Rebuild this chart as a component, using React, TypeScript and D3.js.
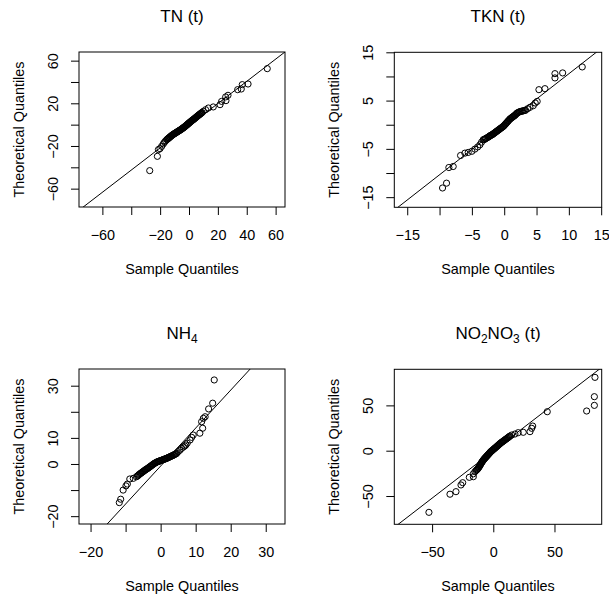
import React, { useEffect, useRef } from 'react';
import * as d3 from 'd3';

// [sample quantile, theoretical quantile]
const tnPoints = [
  [54.2, 52.5], [40.9, 38.1], [36.9, 37.5], [36.2, 33.4], [33.7, 32.8], [27, 27.5], [25.4, 26],
  [25.6, 22.5], [22.6, 21.8], [21.5, 18.75], [16.8, 16.6], [13.4, 15.6], [11.5, 14], [9.9, 12.5],
  [9.0, 11.4], [8.3, 10.6], [7.6, 9.9], [6.9, 9.1], [6.2, 8.4], [5.5, 7.6], [4.8, 6.8], [4.1, 6.0],
  [3.4, 5.2], [2.7, 4.5], [2.0, 3.8], [1.3, 3.0], [0.6, 2.2], [0, 1.5], [-0.6, 0.8], [-1.2, 0.1],
  [-1.8, -0.6], [-2.4, -1.3], [-3.0, -2.0], [-3.6, -2.6], [-4.2, -3.2], [-4.8, -3.8], [-5.5, -4.5],
  [-6.2, -5.1], [-6.9, -5.7], [-7.6, -6.3], [-8.3, -6.9], [-9.0, -7.5], [-9.7, -8.1], [-10.4, -8.7],
  [-11.1, -9.3], [-11.8, -10], [-12.5, -10.8], [-13.2, -11.6], [-13.9, -12.4], [-14.6, -13.2],
  [-15.4, -14.1], [-16.2, -15.2], [-17, -16.5], [-17.8, -18], [-18.9, -20.3], [-20.1, -22.5],
  [-21.2, -23.4], [-21.9, -29.7], [-27.2, -43.1],
  [8.65, 11.0], [7.95, 10.25], [7.25, 9.5], [6.55, 8.75], [5.85, 8.0], [5.15, 7.2], [4.45, 6.4],
  [3.75, 5.6], [3.05, 4.85], [2.35, 4.15], [1.65, 3.4], [0.95, 2.6], [0.3, 1.85], [-0.3, 1.15],
  [-0.9, 0.45], [-1.5, -0.25], [-2.1, -0.95], [-2.7, -1.65], [-3.3, -2.3], [-3.9, -2.9], [-4.5, -3.5],
  [-5.15, -4.15], [-5.85, -4.8], [-6.55, -5.4], [-7.25, -6.0], [-7.95, -6.6], [-8.65, -7.2],
  [-9.35, -7.8], [-10.05, -8.4], [-10.75, -9.0], [-11.45, -9.65], [-12.15, -10.4], [-12.85, -11.2],
  [-13.55, -12.0], [-14.25, -12.8], [-15.0, -13.65],
];
const tknPoints = [
  [12.07, 11.97], [9.04, 10.73], [7.85, 10.58], [7.85, 9.69], [6.3, 7.47], [5.37, 7.26], [5.1, 4.83],
  [4.8, 4.5], [4.49, 3.94], [3.98, 3.6], [3.6, 3.3], [3.3, 3.0], [3.0, 2.9], [2.7, 2.8], [2.4, 2.7],
  [2.1, 2.5], [1.9, 2.3], [1.7, 2.0], [1.5, 1.8], [1.3, 1.6], [1.1, 1.4], [0.9, 1.2], [0.7, 0.9],
  [0.5, 0.6], [0.3, 0.3], [0.1, 0.0], [-0.1, -0.3], [-0.3, -0.5], [-0.5, -0.7], [-0.7, -0.9],
  [-0.9, -1.1], [-1.1, -1.3], [-1.3, -1.5], [-1.5, -1.7], [-1.7, -1.9], [-1.9, -2.1], [-2.1, -2.2],
  [-2.3, -2.4], [-2.5, -2.6], [-2.8, -2.8], [-3.0, -3.0], [-3.25, -3.11], [-3.5, -3.6], [-3.76, -4.15],
  [-4.1, -4.6], [-4.54, -5.05], [-5.0, -5.5], [-5.57, -5.74], [-6.08, -5.88], [-6.75, -6.37],
  [-7.89, -8.65], [-8.56, -8.86], [-8.92, -12.1], [-9.54, -13.1],
  [3.15, 2.95], [2.85, 2.85], [2.55, 2.75], [2.25, 2.6], [2.0, 2.4], [1.8, 2.15], [1.6, 1.9],
  [1.4, 1.7], [1.2, 1.5], [1.0, 1.3], [0.8, 1.05], [0.6, 0.75], [0.4, 0.45], [0.2, 0.15], [0.0, -0.15],
  [-0.2, -0.4], [-0.4, -0.6], [-0.6, -0.8], [-0.8, -1.0], [-1.0, -1.2], [-1.2, -1.4], [-1.4, -1.6],
  [-1.6, -1.8], [-1.8, -2.0], [-2.0, -2.15], [-2.2, -2.3], [-2.4, -2.5], [-2.65, -2.7], [-2.9, -2.9],
  [-3.1, -3.05],
];
const nh4Points = [
  [15.3, 32.2], [14.86, 23.3], [13.7, 21.1], [12.7, 18.1], [12.2, 17.5], [11.7, 16.2], [12, 13.7],
  [11.2, 11.8], [9.3, 11.1], [8.86, 10.2], [8.4, 9.2], [7.6, 8.0], [6.9, 6.9], [6.0, 6.0], [5.0, 4.7],
  [4.6, 4.1], [4.2, 3.8], [3.8, 3.5], [3.4, 3.2], [3.0, 3.0], [2.6, 2.7], [2.2, 2.5], [1.8, 2.2],
  [1.4, 2.0], [1.0, 1.8], [0.6, 1.6], [0.2, 1.4], [-0.2, 1.2], [-0.6, 1.0], [-1.0, 0.8], [-1.4, 0.5],
  [-1.8, 0.2], [-2.2, -0.2], [-2.6, -0.6], [-3.0, -1.0], [-3.4, -1.4], [-3.8, -1.8], [-4.2, -2.1],
  [-4.6, -2.5], [-5.0, -2.9], [-5.4, -3.3], [-5.8, -3.7], [-6.2, -4.1], [-6.6, -4.6], [-6.9, -4.9],
  [-7.8, -5.5], [-8.8, -5.75], [-9.5, -7.7], [-9.9, -8.4], [-10.7, -10], [-11.4, -13.5], [-11.8, -14.8],
  [4.4, 3.95], [4.0, 3.65], [3.6, 3.35], [3.2, 3.1], [2.8, 2.85], [2.4, 2.6], [2.0, 2.35], [1.6, 2.1],
  [1.2, 1.9], [0.8, 1.7], [0.4, 1.5], [0.0, 1.3], [-0.4, 1.1], [-0.8, 0.9], [-1.2, 0.65], [-1.6, 0.35],
  [-2.0, 0.0], [-2.4, -0.4], [-2.8, -0.8], [-3.2, -1.2], [-3.6, -1.6], [-4.0, -1.95], [-4.4, -2.3],
  [-4.8, -2.7], [-5.2, -3.1], [-5.6, -3.5], [-6.0, -3.9], [-6.4, -4.35], [5.5, 5.3], [6.5, 6.5],
  [7.2, 7.3],
];
const no2no3Points = [
  [83.1, 80.9], [82.6, 59.6], [82.6, 50], [76.3, 43.8], [44.1, 43], [32.2, 27.2], [31.4, 24.7],
  [30, 21], [24.5, 20.3], [20.4, 19.9], [17.7, 18.4], [15, 17.3], [13.7, 16.2], [12.6, 15.0],
  [11.5, 13.9], [10.4, 12.8], [9.3, 11.7], [8.2, 10.6], [7.1, 9.5], [6.0, 8.4], [5.0, 7.2], [4.0, 6.0],
  [3.0, 4.8], [2.0, 3.6], [1.0, 2.5], [0.0, 1.3], [-1.0, 0.1], [-2.0, -1.0], [-2.8, -2.2], [-3.6, -3.4],
  [-4.4, -4.6], [-5.2, -5.8], [-6.0, -7.0], [-6.8, -8.2], [-7.6, -9.4], [-8.3, -10.7], [-9.0, -12.0],
  [-9.7, -13.4], [-10.3, -14.8], [-10.9, -16.2], [-11.5, -17.6], [-12.2, -19.0], [-13.0, -20.4],
  [-14.0, -21.8], [-15, -23.2], [-16.3, -25.5], [-16.3, -28.7], [-19.6, -29.4], [-25, -35.3],
  [-26.4, -37.8], [-30.5, -45.2], [-35.4, -48], [-52.6, -68],
  [13.15, 15.6], [12.05, 14.45], [10.95, 13.35], [9.85, 12.25], [8.75, 11.15], [7.65, 10.05],
  [6.55, 8.95], [5.5, 7.8], [4.5, 6.6], [3.5, 5.4], [2.5, 4.2], [1.5, 3.05], [0.5, 1.9], [-0.5, 0.7],
  [-1.5, -0.45], [-2.4, -1.6], [-3.2, -2.8], [-4.0, -4.0], [-4.8, -5.2], [-5.6, -6.4], [-6.4, -7.6],
  [-7.2, -8.8], [-7.95, -10.05], [-8.65, -11.35], [-9.35, -12.7], [-10.0, -14.1], [-10.6, -15.5],
  [-11.2, -16.9], [-11.85, -18.3], [-12.6, -19.7], [-13.5, -21.1],
];

// reference line: [intercept, slope]
const tnLine = [-1.0, 1.04];
const tknLine = [0.1, 1.046];
const nh4Line = [-0.8, 1.455];
const no2no3Line = [-0.3, 1.041];

// axis limits
const tnXLim = [-76.2, 66.5];
const tnYLim = [-77.2, 68.1];
const tknXLim = [-17.0, 15.08];
const tknYLim = [-17.1, 15.0];
const nh4XLim = [-23.3, 35.5];
const nh4YLim = [-23.0, 36.4];
const no2no3XLim = [-80.9, 88.6];
const no2no3YLim = [-81.2, 89.8];

// ticks and the labels R kept (empty = dropped for overlap)
const tnXTicks = [-60, -40, -20, 0, 20, 40, 60];
const tnXLabels = ['−60', '', '−20', '0', '20', '40', '60'];
const tnYTicks = [-60, -40, -20, 0, 20, 40, 60];
const tnYLabels = ['−60', '', '−20', '', '20', '', '60'];
const tknXTicks = [-15, -10, -5, 0, 5, 10, 15];
const tknXLabels = ['−15', '', '−5', '0', '5', '10', '15'];
const tknYTicks = [-15, -10, -5, 0, 5, 10, 15];
const tknYLabels = ['−15', '', '−5', '', '5', '', '15'];
const nh4XTicks = [-20, -10, 0, 10, 20, 30];
const nh4XLabels = ['−20', '', '0', '10', '20', '30'];
const nh4YTicks = [-20, -10, 0, 10, 20, 30];
const nh4YLabels = ['−20', '', '0', '10', '', '30'];
const no2no3XTicks = [-50, 0, 50];
const no2no3XLabels = ['−50', '0', '50'];
const no2no3YTicks = [-50, 0, 50];
const no2no3YLabels = ['−50', '0', '50'];

// title pieces: [text, subscript]
const tnTitle = [['TN (t)', false]];
const tknTitle = [['TKN (t)', false]];
const nh4Title = [['NH', false], ['4', true]];
const no2no3Title = [['NO', false], ['2', true], ['NO', false], ['3', true], [' (t)', false]];

const FONT = '"Liberation Sans", Arial, Helvetica, sans-serif';

const QQPanel = ({ id, box, title, points, line, xLim, yLim, xTicks, xLabels, yTicks, yLabels }) => {
  const ref = useRef(null);

  useEffect(() => {
    const g = d3.select(ref.current);
    g.selectAll('*').remove();

    const left = box.left;
    const right = box.left + box.width;
    const top = box.top;
    const bottom = box.top + box.height;
    const x = d3.scaleLinear().domain(xLim).range([left, right]);
    const y = d3.scaleLinear().domain(yLim).range([bottom, top]);

    g.append('clipPath')
      .attr('id', id)
      .append('rect')
      .attr('x', left)
      .attr('y', top)
      .attr('width', box.width)
      .attr('height', box.height);

    // title with subscripts
    const t = g
      .append('text')
      .attr('x', (left + right) / 2)
      .attr('y', top - 30)
      .attr('text-anchor', 'middle')
      .attr('font-size', 17);
    let shift = 0;
    title.forEach(([s, sub]) => {
      const want = sub ? 4 : 0;
      t.append('tspan')
        .attr('dy', want - shift)
        .attr('font-size', sub ? 12 : 17)
        .text(s);
      shift = want;
    });

    // x axis
    const xAxis = g
      .append('g')
      .attr('transform', `translate(0,${bottom})`)
      .call(
        d3.axisBottom(x).tickValues(xTicks).tickSize(8).tickSizeOuter(0)
          .tickFormat((d, i) => xLabels[i])
      );
    xAxis.select('.domain').remove();
    xAxis.attr('font-family', FONT).attr('font-size', 14.4);
    xAxis.selectAll('text').attr('y', 33).attr('dy', null).attr('fill', '#000');

    // y axis
    const yAxis = g
      .append('g')
      .attr('transform', `translate(${left},0)`)
      .call(
        d3.axisLeft(y).tickValues(yTicks).tickSize(8).tickSizeOuter(0)
          .tickFormat((d, i) => yLabels[i])
      );
    yAxis.select('.domain').remove();
    yAxis.attr('font-family', FONT).attr('font-size', 14.4);
    yAxis
      .selectAll('text')
      .attr('x', null)
      .attr('dy', null)
      .attr('text-anchor', 'middle')
      .attr('transform', 'translate(-21,0) rotate(-90)')
      .attr('fill', '#000');

    // axis titles
    g.append('text')
      .attr('x', (left + right) / 2)
      .attr('y', bottom + 67)
      .attr('text-anchor', 'middle')
      .attr('font-size', 14.4)
      .text('Sample Quantiles');
    g.append('text')
      .attr('transform', `translate(${left - 55},${(top + bottom) / 2}) rotate(-90)`)
      .attr('text-anchor', 'middle')
      .attr('font-size', 14.4)
      .text('Theoretical Quantiles');

    // reference line
    const [a, b] = line;
    g.append('line')
      .attr('clip-path', `url(#${id})`)
      .attr('x1', x(xLim[0] - 20))
      .attr('y1', y(a + b * (xLim[0] - 20)))
      .attr('x2', x(xLim[1] + 20))
      .attr('y2', y(a + b * (xLim[1] + 20)))
      .attr('stroke', '#000')
      .attr('stroke-width', 1);

    // points
    g.append('g')
      .selectAll('circle')
      .data(points)
      .enter()
      .append('circle')
      .attr('cx', d => x(d[0]))
      .attr('cy', d => y(d[1]))
      .attr('r', 3.1)
      .attr('fill', 'none')
      .attr('stroke', '#000')
      .attr('stroke-width', 1);

    // plot box
    g.append('rect')
      .attr('x', left)
      .attr('y', top)
      .attr('width', box.width)
      .attr('height', box.height)
      .attr('fill', 'none')
      .attr('stroke', '#000')
      .attr('stroke-width', 1);
  }, []);

  return <g ref={ref} />;
};

const App = () => {
  return (
    <svg
      width={609}
      height={600}
      style={{ position: 'absolute', left: 0, top: 0, background: '#fff', fontFamily: FONT }}
    >
      <QQPanel
        id="clip-tn"
        box={{ left: 79, top: 52, width: 206, height: 155 }}
        title={tnTitle}
        points={tnPoints}
        line={tnLine}
        xLim={tnXLim}
        yLim={tnYLim}
        xTicks={tnXTicks}
        xLabels={tnXLabels}
        yTicks={tnYTicks}
        yLabels={tnYLabels}
      />
      <QQPanel
        id="clip-tkn"
        box={{ left: 394.3, top: 52.3, width: 207.4, height: 155 }}
        title={tknTitle}
        points={tknPoints}
        line={tknLine}
        xLim={tknXLim}
        yLim={tknYLim}
        xTicks={tknXTicks}
        xLabels={tknXLabels}
        yTicks={tknYTicks}
        yLabels={tknYLabels}
      />
      <QQPanel
        id="clip-nh4"
        box={{ left: 79, top: 369, width: 206, height: 155 }}
        title={nh4Title}
        points={nh4Points}
        line={nh4Line}
        xLim={nh4XLim}
        yLim={nh4YLim}
        xTicks={nh4XTicks}
        xLabels={nh4XLabels}
        yTicks={nh4YTicks}
        yLabels={nh4YLabels}
      />
      <QQPanel
        id="clip-no2no3"
        box={{ left: 394.3, top: 369.3, width: 207.4, height: 155 }}
        title={no2no3Title}
        points={no2no3Points}
        line={no2no3Line}
        xLim={no2no3XLim}
        yLim={no2no3YLim}
        xTicks={no2no3XTicks}
        xLabels={no2no3XLabels}
        yTicks={no2no3YTicks}
        yLabels={no2no3YLabels}
      />
    </svg>
  );
};

export default App;
